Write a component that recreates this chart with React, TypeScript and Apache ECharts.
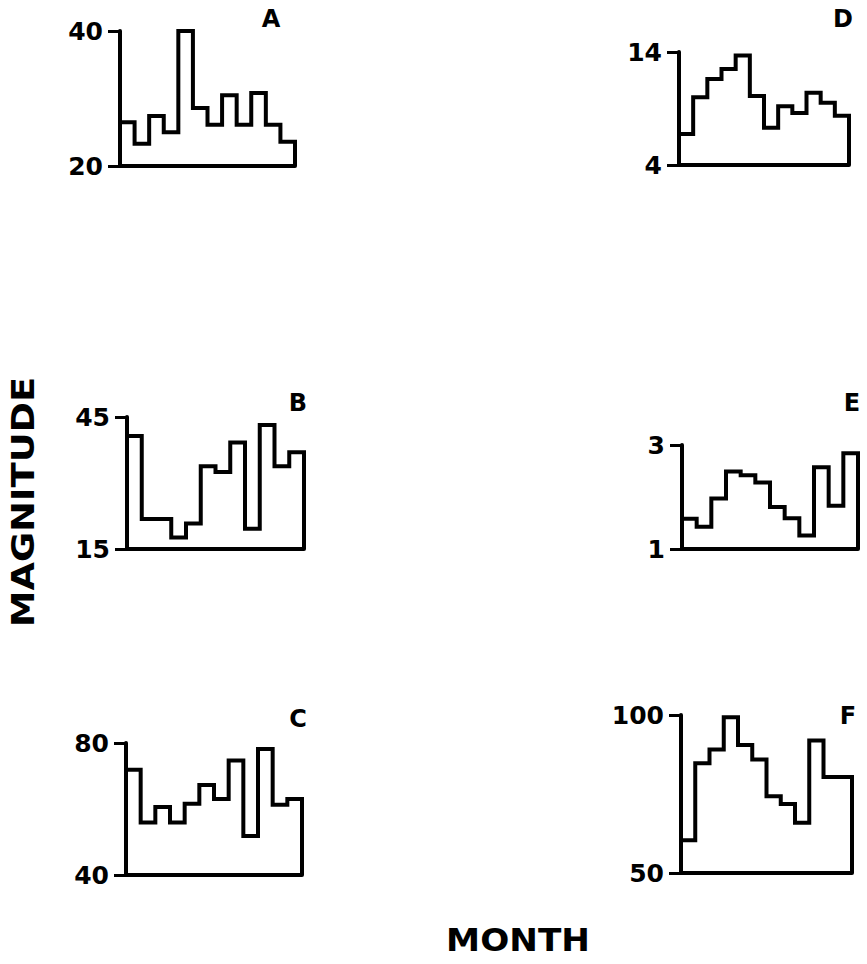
import React, { useEffect, useRef } from "react";
import * as echarts from "echarts";

const months = [1, 2, 3, 4, 5, 6, 7, 8, 9, 10, 11, 12];
const seriesA = [26.5, 23.3, 27.4, 25.0, 40, 28.6, 26.1, 30.5, 26.1, 30.8, 26.1, 23.6];
const seriesB = [40.7, 21.8, 21.8, 17.6, 20.8, 33.8, 32.5, 39.2, 19.6, 43.2, 33.8, 37.0];
const seriesC = [71.9, 55.9, 60.6, 55.9, 61.6, 67.3, 63.0, 74.7, 51.8, 78.2, 61.3, 63.0];
const seriesD = [6.75, 10.0, 11.6, 12.5, 13.7, 10.1, 7.3, 9.2, 8.6, 10.4, 9.5, 8.35];
const seriesE = [1.58, 1.43, 1.97, 2.49, 2.42, 2.28, 1.81, 1.59, 1.26, 2.57, 1.83, 2.84];
const seriesF = [60.4, 84.7, 89.1, 99.3, 90.5, 85.9, 74.3, 71.8, 65.9, 91.9, 80.4, 80.4];
const panelNames = ["A", "B", "C", "D", "E", "F"];
const yMins = [20, 15, 40, 4, 1, 50];
const yMaxs = [40, 45, 80, 14, 3, 100];

const panelData = [seriesA, seriesB, seriesC, seriesD, seriesE, seriesF];

// layout: [left, top, width, height] and title position
const grids = [
  [120, 31, 175, 135],
  [127, 417, 177, 132],
  [126, 743, 176, 132],
  [679, 52, 170, 113],
  [682, 445, 176, 104],
  [681, 715, 171, 158],
];
const titlePos = [
  [271, 19],
  [298, 403],
  [298, 719],
  [843, 19],
  [852, 403],
  [848, 716],
];

const FONT = "DejaVu Sans";

export default function App() {
  const ref = useRef<HTMLDivElement>(null);
  useEffect(() => {
    if (!ref.current) return;
    const chart = echarts.init(ref.current, null, { renderer: "svg" });
    const grid: any[] = [];
    const xAxis: any[] = [];
    const yAxis: any[] = [];
    const series: any[] = [];
    const graphic: any[] = [];
    panelData.forEach((vals, i) => {
      const [l, t, w, h] = grids[i];
      grid.push({ left: l, top: t, width: w, height: h, containLabel: false });
      xAxis.push({
        gridIndex: i,
        type: "value",
        min: 0,
        max: months.length,
        axisLabel: { show: false },
        axisTick: { show: false },
        splitLine: { show: false },
        axisLine: { show: true, onZero: false, lineStyle: { color: "#000", width: 4 } },
      });
      const mn = yMins[i];
      const mx = yMaxs[i];
      yAxis.push({
        gridIndex: i,
        type: "value",
        min: mn,
        max: mx,
        interval: mx - mn,
        splitLine: { show: false },
        axisLine: { show: true, lineStyle: { color: "#000", width: 4 } },
        axisTick: { show: true, length: 12, lineStyle: { color: "#000", width: 3 } },
        axisLabel: {
          color: "#000",
          fontFamily: FONT,
          fontWeight: "bold",
          fontSize: 25,
          margin: 17,
        },
      });
      const pts: number[][] = [[0, mn]];
      vals.forEach((v, k) => pts.push([k, v]));
      pts.push([months.length, vals[vals.length - 1]]);
      pts.push([months.length, mn]);
      series.push({
        type: "line",
        xAxisIndex: i,
        yAxisIndex: i,
        data: pts,
        step: "end",
        symbol: "none",
        clip: false,
        lineStyle: { color: "#000", width: 4, join: "miter" },
      });
      graphic.push({
        type: "text",
        x: titlePos[i][0],
        y: titlePos[i][1],
        style: {
          text: panelNames[i],
          fill: "#000",
          font: `bold 24px "${FONT}"`,
          textAlign: "center",
          textVerticalAlign: "middle",
        },
      });
    });
    graphic.push({
      type: "text",
      x: 23,
      y: 502,
      rotation: Math.PI / 2,
      scaleX: 1.15,
      style: {
        text: "MAGNITUDE",
        fill: "#000",
        font: `bold 32px "${FONT}"`,
        textAlign: "center",
        textVerticalAlign: "middle",
      },
    });
    graphic.push({
      type: "text",
      x: 518,
      y: 940,
      scaleX: 1.07,
      style: {
        text: "MONTH",
        fill: "#000",
        font: `bold 32px "${FONT}"`,
        textAlign: "center",
        textVerticalAlign: "middle",
      },
    });
    chart.setOption({
      animation: false,
      backgroundColor: "#fff",
      grid,
      xAxis,
      yAxis,
      series,
      graphic,
    });
    return () => chart.dispose();
  }, []);
  return (
    <div
      ref={ref}
      style={{ position: "fixed", left: 0, top: 0, width: 867, height: 964, background: "#fff" }}
    />
  );
}
